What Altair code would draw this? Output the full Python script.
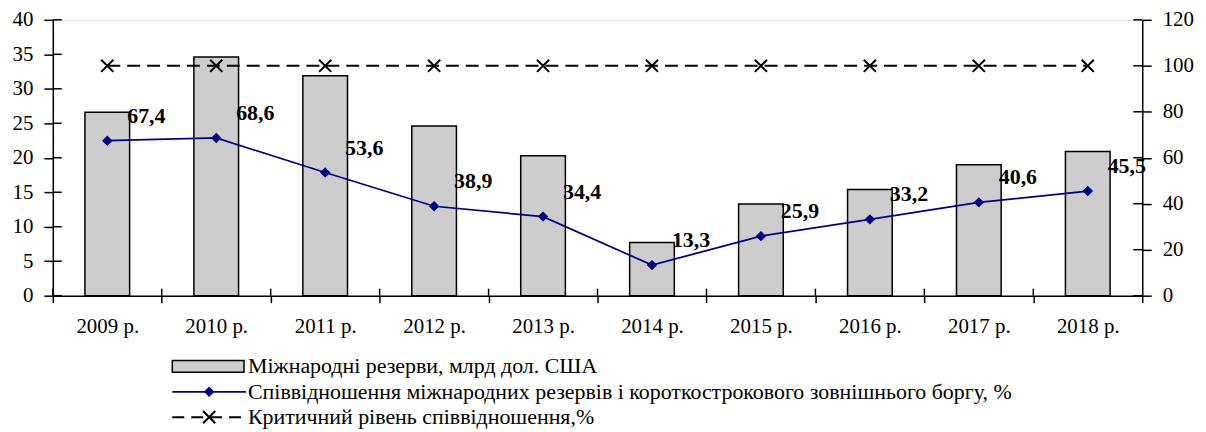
import altair as alt
import pandas as pd

years = ["2009 р.", "2010 р.", "2011 р.", "2012 р.", "2013 р.",
         "2014 р.", "2015 р.", "2016 р.", "2017 р.", "2018 р."]
reserves = [26.6, 34.6, 31.9, 24.6, 20.3, 7.7, 13.3, 15.4, 19.0, 20.9]
ratio = [67.4, 68.6, 53.6, 38.9, 34.4, 13.3, 25.9, 33.2, 40.6, 45.5]
ratio_labels = ["67,4", "68,6", "53,6", "38,9", "34,4",
                "13,3", "25,9", "33,2", "40,6", "45,5"]
critical = [100, 100, 100, 100, 100, 100, 100, 100, 100, 100]
left_ticks = [0, 5, 10, 15, 20, 25, 30, 35, 40]
right_ticks = [0, 20, 40, 60, 80, 100, 120]
legend_labels = [
    "Міжнародні резерви, млрд дол. США",
    "Співвідношення міжнародних резервів і короткострокового зовнішнього боргу, %",
    "Критичний рівень співвідношення,%",
]

FONT = "Liberation Serif"
NAVY = "#000080"
BAR_FILL = "#cdcdcd"
W, H = 1094, 277
FS = 21

df = pd.DataFrame({"year": years, "reserves": reserves, "ratio": ratio,
                   "critical": critical, "label": ratio_labels})
leg = pd.DataFrame({"row": [0, 1, 2], "text": legend_labels})
lt = pd.DataFrame({"v": left_ticks})
rt = pd.DataFrame({"v": right_ticks})
xt = pd.DataFrame({"year": years})

axis_common = dict(title=None, grid=False, domainColor="black", tickColor="black",
                   domainWidth=1.5, tickWidth=1.5, labelColor="black",
                   labelFont=FONT, labelFontSize=FS)

xscale = alt.Scale(paddingInner=0, paddingOuter=0)
x = alt.X("year:N", sort=years, scale=xscale,
          axis=alt.Axis(labelAngle=0, tickBand="extent", tickSize=7,
                        labelPadding=13, **axis_common))

base = alt.Chart(df)

bars = base.mark_bar(width=alt.RelativeBandSize(0.41), fill=BAR_FILL,
                     stroke="black", strokeWidth=1.5).encode(
    x=x,
    y=alt.Y("reserves:Q", scale=alt.Scale(domain=[0, 40]),
            axis=alt.Axis(orient="left", values=left_ticks, tickSize=9,
                          labelPadding=11, **axis_common)),
)

lscale_y = alt.Scale(domain=[0, 40])
rscale = alt.Scale(domain=[0, 120])

# inward halves of the crossing ticks
left_in = alt.Chart(lt).mark_rule(color="black", strokeWidth=1.5).encode(
    x=alt.value(0), x2=alt.value(9),
    y=alt.Y("v:Q", scale=lscale_y, axis=None))
right_in = alt.Chart(rt).mark_rule(color="black", strokeWidth=1.5).encode(
    x=alt.value(W - 9), x2=alt.value(W),
    y=alt.Y("v:Q", scale=rscale, axis=None))
x_in = alt.Chart(xt).mark_rule(color="black", strokeWidth=1.5).encode(
    x=alt.X("year:N", sort=years, scale=xscale, bandPosition=0),
    y=alt.value(H - 7), y2=alt.value(H))

ratio_line = base.mark_line(color=NAVY, strokeWidth=1.75).encode(
    x=x,
    y=alt.Y("ratio:Q", scale=rscale,
            axis=alt.Axis(orient="right", values=right_ticks, tickSize=9,
                          labelPadding=11, **axis_common)),
)
ratio_pts = base.mark_point(shape="diamond", filled=True, color=NAVY,
                            size=110, opacity=1).encode(
    x=x, y=alt.Y("ratio:Q", scale=rscale, axis=None))

crit_line = base.mark_line(color="black", strokeWidth=2,
                           strokeDash=[13, 7]).encode(
    x=x, y=alt.Y("critical:Q", scale=rscale, axis=None))
CROSS = "M-1,-1L1,1M1,-1L-1,1"
crit_pts = base.mark_point(shape=CROSS, filled=False, color="black",
                           strokeWidth=2, size=150, opacity=1).encode(
    x=x, y=alt.Y("critical:Q", scale=rscale, axis=None))

labels = base.mark_text(align="left", baseline="middle", dx=20, dy=-25,
                        font=FONT, fontSize=22, fontWeight="bold",
                        color="black").encode(
    x=x, y=alt.Y("ratio:Q", scale=rscale, axis=None), text="label:N")

# legend (rows placed through a row scale)
lscale = alt.Scale(domain=[0, 2], range=[348, 399])
lbase = alt.Chart(leg)

leg_rect = lbase.transform_filter("datum.row == 0").transform_calculate(
    y0="datum.row - 0.23", y1="datum.row + 0.23").mark_rect(
    fill=BAR_FILL, stroke="black", strokeWidth=1.5).encode(
    x=alt.value(120), x2=alt.value(192),
    y=alt.Y("y0:Q", scale=lscale, axis=None), y2="y1:Q")

leg_line = lbase.transform_filter("datum.row == 1").mark_rule(
    color=NAVY, strokeWidth=1.75).encode(
    x=alt.value(120), x2=alt.value(194),
    y=alt.Y("row:Q", scale=lscale, axis=None))
leg_dia = lbase.transform_filter("datum.row == 1").mark_point(
    shape="diamond", filled=True, color=NAVY, size=110, opacity=1).encode(
    x=alt.value(157), y=alt.Y("row:Q", scale=lscale, axis=None))

leg_dash = lbase.transform_filter("datum.row == 2").mark_rule(
    color="black", strokeWidth=2, strokeDash=[12, 7]).encode(
    x=alt.value(120), x2=alt.value(194),
    y=alt.Y("row:Q", scale=lscale, axis=None))
leg_cross = lbase.transform_filter("datum.row == 2").mark_point(
    shape=CROSS, filled=False, color="black", strokeWidth=2, size=150,
    opacity=1).encode(
    x=alt.value(157), y=alt.Y("row:Q", scale=lscale, axis=None))

leg_text = lbase.mark_text(align="left", baseline="middle", font=FONT,
                           fontSize=22, color="black").encode(
    x=alt.value(196), y=alt.Y("row:Q", scale=lscale, axis=None),
    text="text:N")

chart = alt.layer(
    bars, left_in, right_in, x_in, crit_line, crit_pts, ratio_line,
    ratio_pts, labels,
    leg_rect, leg_line, leg_dia, leg_dash, leg_cross, leg_text,
).resolve_scale(y="independent").properties(
    width=W, height=H,
    padding={"left": 4, "top": 0, "right": 4, "bottom": 0},
).configure_view(stroke="#999999", strokeWidth=1.5).configure(
    background="white")

chart.save("out.html", embed_options={"renderer": "svg", "actions": False})
